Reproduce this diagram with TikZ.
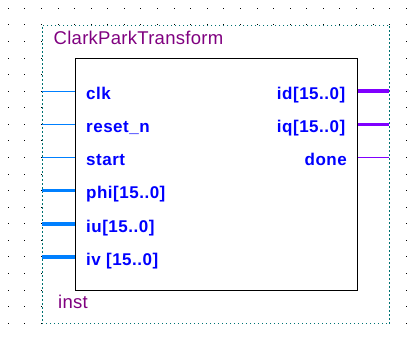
\documentclass[tikz,border=0pt]{standalone}
\usepackage{fontspec}
\setmainfont{Liberation Sans}
\newfontfamily\pinfont[LetterSpace=3]{Liberation Sans}
\newfontfamily\namefont[LetterSpace=1.5]{Liberation Sans}
\begin{document}
\begin{tikzpicture}[x=1pt,y=-1pt,
  frameline/.style={draw=teal!90!black, line width=1pt, dash pattern=on 1.2pt off 2.8pt},
  pinin/.style={draw={rgb,255:red,0;green,128;blue,255}, line width=1.2pt},
  busin/.style={draw={rgb,255:red,0;green,128;blue,255}, line width=3.5pt},
  pinout/.style={draw={rgb,255:red,128;green,0;blue,255}, line width=1.2pt},
  busout/.style={draw={rgb,255:red,128;green,0;blue,255}, line width=3.5pt},
  pinlabel/.style={text={rgb,255:red,0;green,0;blue,255}, font=\pinfont\fontsize{17}{19}\selectfont\bfseries, inner sep=0pt},
  namelabel/.style={text={rgb,255:red,128;green,0;blue,128}, font=\namefont\fontsize{18.5}{20}\selectfont, inner sep=0pt}]
\useasboundingbox (0,0) rectangle (408,337);
\fill[white] (0,0) rectangle (408,337);
% background grid of dots
\foreach \i in {0,...,24}
  \foreach \j in {0,...,19}
    \fill[black] ({7.8+16.58*\i},{7.8+16.58*\j}) rectangle +(1,1);
% symbol frame
\node[frameline, fill=white, minimum width=347.8pt, minimum height=298.4pt, anchor=north west, inner sep=0pt] (frame) at (41.5,24.9) {};
\node[namelabel, anchor=base west] (title) at (53.5,45) {ClarkParkTransform};
\node[namelabel, anchor=base west] (inst) at (58,308.3) {inst};
% block body
\node[draw=black, line width=1pt, minimum width=282pt, minimum height=232.2pt, anchor=north west, inner sep=0pt] (blk) at (74.6,58) {};
% input pins
\coordinate (clkL) at (41.5,91.2);
\coordinate (rstL) at (41.5,124.4);
\coordinate (startL) at (41.5,157.5);
\coordinate (phiL) at (41.5,190.7);
\coordinate (iuL) at (41.5,223.8);
\coordinate (ivL) at (41.5,257);
\draw[pinin] (clkL) -- (clkL -| blk.west);
\draw[pinin] (rstL) -- (rstL -| blk.west);
\draw[pinin] (startL) -- (startL -| blk.west);
\draw[busin] (phiL) -- (phiL -| blk.west);
\draw[busin] (iuL) -- (iuL -| blk.west);
\draw[busin] (ivL) -- (ivL -| blk.west);
% output pins
\coordinate (idR) at (389.3,91.2);
\coordinate (iqR) at (389.3,124.4);
\coordinate (doneR) at (389.3,157.5);
\draw[busout] (idR -| blk.east) -- (idR);
\draw[busout] (iqR -| blk.east) -- (iqR);
\draw[pinout] (doneR -| blk.east) -- (doneR);
% pin labels
\node[pinlabel, anchor=base west] (lclk) at (86,99.5) {clk};
\node[pinlabel, anchor=base west] (lrst) at (86,132.7) {reset\_n};
\node[pinlabel, anchor=base west] (lstart) at (86,165.8) {start};
\node[pinlabel, anchor=base west] (lphi) at (86,199) {phi[15..0]};
\node[pinlabel, anchor=base west] (liu) at (86,232.1) {iu[15..0]};
\node[pinlabel, anchor=base west] (liv) at (86,265.3) {iv [15..0]};
\node[pinlabel, anchor=base east] (lid) at (345.5,99.5) {id[15..0]};
\node[pinlabel, anchor=base east] (liq) at (345.5,132.7) {iq[15..0]};
\node[pinlabel, anchor=base east] (ldone) at (347,165.8) {done};
\end{tikzpicture}
\end{document}
